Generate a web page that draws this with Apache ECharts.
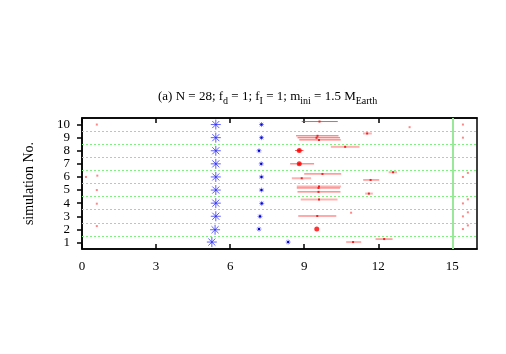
<!DOCTYPE html>
<html>
<head>
<meta charset="utf-8">
<script src="https://cdn.jsdelivr.net/npm/echarts@6.0.0/dist/echarts.min.js"></script>
<style>
  html, body { margin: 0; padding: 0; background: #ffffff; }
  #chart { width: 506px; height: 354px; }
</style>
</head>
<body>
<div id="chart"></div>
<script>
// tick labels
var xTicks = [0, 3, 6, 9, 12, 15];
var yTicks = [1, 2, 3, 4, 5, 6, 7, 8, 9, 10];
var rowSeparators = [1.5, 2.5, 3.5, 4.5, 5.5, 6.5, 7.5, 8.5, 9.5];
var xLimit = [15];

// blue asterisks [x, simulation]
var bigStars = [[5.26, 1.03], [5.39, 1.97], [5.42, 3], [5.42, 4], [5.42, 5], [5.42, 6], [5.42, 7], [5.42, 8], [5.42, 9], [5.42, 10]];
var smallStars = [[8.35, 1.03], [7.17, 2.02], [7.21, 2.99], [7.28, 3.98], [7.27, 5], [7.27, 6], [7.26, 7], [7.17, 8], [7.27, 9], [7.27, 10]];

// red ranges [centre, simulation, low, high]
var redRanges = [
  [9.62, 10.23, 8.9, 10.36],
  [9.54, 9.14, 8.67, 10.39],
  [9.5, 8.99, 8.73, 10.45],
  [9.6, 8.83, 8.8, 10.48],
  [8.8, 8.02, 8.63, 8.97],
  [8.8, 7.0, 8.43, 9.4],
  [9.74, 6.23, 9.0, 10.5],
  [11.69, 5.77, 11.39, 12.04],
  [9.58, 4.86, 8.73, 10.47],
  [9.53, 3.02, 8.76, 10.3],
  [12.24, 1.26, 11.89, 12.58]
];
var paleRanges = [
  [11.55, 9.32, 11.38, 11.74],
  [10.66, 8.3, 10.08, 11.24],
  [12.6, 6.36, 12.42, 12.76],
  [8.9, 5.9, 8.5, 9.28],
  [9.6, 5.28, 8.7, 10.49],
  [9.58, 5.16, 8.7, 10.45],
  [11.62, 4.73, 11.47, 11.78],
  [9.6, 4.27, 8.86, 10.35],
  [10.98, 1.03, 10.7, 11.31]
];

// red points [x, simulation]
var bigDots = [[8.8, 8.02], [8.8, 7.0], [9.51, 2.02]];
var smallDots = [
  [0.6, 10.0], [0.62, 6.1], [0.16, 6.0], [0.6, 5.0], [0.6, 3.96], [0.6, 2.25],
  [13.27, 9.8], [10.9, 3.27],
  [15.43, 10.0], [15.43, 9.0], [15.43, 6.0], [15.43, 3.98], [15.43, 2.99], [15.43, 2.02],
  [15.63, 6.31], [15.63, 4.29], [15.63, 3.3], [15.63, 2.3]
];

var serif = '"Liberation Serif", "DejaVu Serif", serif';

function starItem(size, lw, color, core) {
  return function (params, api) {
    var p = api.coord([api.value(0), api.value(1)]);
    var h = size / 2, d = h * 0.707;
    var segs = [[-h, 0, h, 0], [0, -h, 0, h], [-d, -d, d, d], [-d, d, d, -d]];
    var kids = segs.map(function (s) {
      return {
        type: 'line',
        shape: { x1: p[0] + s[0], y1: p[1] + s[1], x2: p[0] + s[2], y2: p[1] + s[3] },
        style: { stroke: color, lineWidth: lw }
      };
    });
    if (core) {
      kids.push({ type: 'rect', shape: { x: p[0] - 1, y: p[1] - 1, width: 2, height: 2 }, style: { fill: '#0000cc' } });
    }
    return { type: 'group', children: kids };
  };
}

function rangeItem(lw, color) {
  return function (params, api) {
    var c = api.coord([api.value(0), api.value(1)]);
    var lo = api.coord([api.value(2), api.value(1)]);
    var hi = api.coord([api.value(3), api.value(1)]);
    return {
      type: 'group',
      children: [
        { type: 'line', shape: { x1: lo[0], y1: lo[1], x2: hi[0], y2: hi[1] }, style: { stroke: color, lineWidth: lw } },
        { type: 'rect', shape: { x: c[0] - 1, y: c[1] - 1, width: 2, height: 2 }, style: { fill: '#ee2222' } }
      ]
    };
  };
}

var chart = echarts.init(document.getElementById('chart'), null, { renderer: 'canvas' });

var option = {
  backgroundColor: '#ffffff',
  animation: false,
  title: {
    text: '(a) N = 28; f{s|d} = 1; f{s|I} = 1; m{s|ini} = 1.5 M{s|Earth}',
    left: 158,
    top: 87,
    padding: 0,
    textStyle: {
      fontFamily: serif,
      fontSize: 13,
      fontWeight: 'normal',
      color: '#000',
      lineHeight: 19,
      rich: {
        s: { fontFamily: serif, fontSize: 10, color: '#000', lineHeight: 19, verticalAlign: 'bottom' }
      }
    }
  },
  grid: {
    left: 82, right: 29, top: 118, bottom: 105,
    show: true,
    borderColor: '#000',
    borderWidth: 1.5
  },
  xAxis: [{
    type: 'value',
    min: 0, max: 16,
    axisLine: { show: true, lineStyle: { color: '#000', width: 1.5 } },
    axisTick: { show: true, inside: true, length: 5, lineStyle: { color: '#000', width: 1.5 }, customValues: xTicks },
    axisLabel: { customValues: xTicks, fontFamily: serif, fontSize: 13, color: '#000', margin: 11 },
    splitLine: { show: false }
  }, {
    type: 'value',
    position: 'top',
    min: 0, max: 16,
    axisLine: { show: true, lineStyle: { color: '#000', width: 1.5 } },
    axisTick: { show: true, inside: true, length: 5, lineStyle: { color: '#000', width: 1.5 }, customValues: xTicks },
    axisLabel: { show: false },
    splitLine: { show: false }
  }],
  yAxis: {
    type: 'value',
    min: 0.5, max: 10.5,
    name: 'simulation No.',
    nameLocation: 'middle',
    nameGap: 46,
    nameTextStyle: { fontFamily: serif, fontSize: 14, color: '#000' },
    axisLine: { show: true, lineStyle: { color: '#000', width: 1.5 } },
    axisTick: { show: true, inside: false, length: 5, lineStyle: { color: '#000', width: 1.5 }, customValues: yTicks },
    axisLabel: { customValues: yTicks, fontFamily: serif, fontSize: 13, color: '#000', margin: 12 },
    splitLine: { show: false }
  },
  series: [
    {
      type: 'line',
      data: [],
      markLine: {
        silent: true,
        symbol: 'none',
        label: { show: false },
        lineStyle: { color: '#80f080', type: [2, 2], width: 1 },
        data: rowSeparators.map(function (v) { return { yAxis: v }; })
      }
    },
    {
      type: 'line',
      data: [],
      markLine: {
        silent: true,
        symbol: 'none',
        label: { show: false },
        lineStyle: { color: '#9be89b', type: 'solid', width: 2 },
        data: xLimit.map(function (v) { return { xAxis: v }; })
      }
    },
    { type: 'custom', renderItem: rangeItem(2, 'rgba(255,60,60,0.4)'), data: paleRanges, encode: { x: 0, y: 1 } },
    { type: 'custom', renderItem: rangeItem(1, 'rgba(255,30,30,0.75)'), data: redRanges, encode: { x: 0, y: 1 } },
    { type: 'custom', renderItem: starItem(10, 1, 'rgba(40,40,255,0.75)', false), data: bigStars, encode: { x: 0, y: 1 } },
    { type: 'custom', renderItem: starItem(5, 1, 'rgba(60,60,255,0.6)', true), data: smallStars, encode: { x: 0, y: 1 } },
    { type: 'scatter', symbol: 'circle', symbolSize: 5, itemStyle: { color: '#ff0000' }, data: bigDots },
    { type: 'scatter', symbol: 'rect', symbolSize: 2, itemStyle: { color: 'rgba(255,40,40,0.7)' }, data: smallDots }
  ]
};

chart.setOption(option);
</script>
</body>
</html>
